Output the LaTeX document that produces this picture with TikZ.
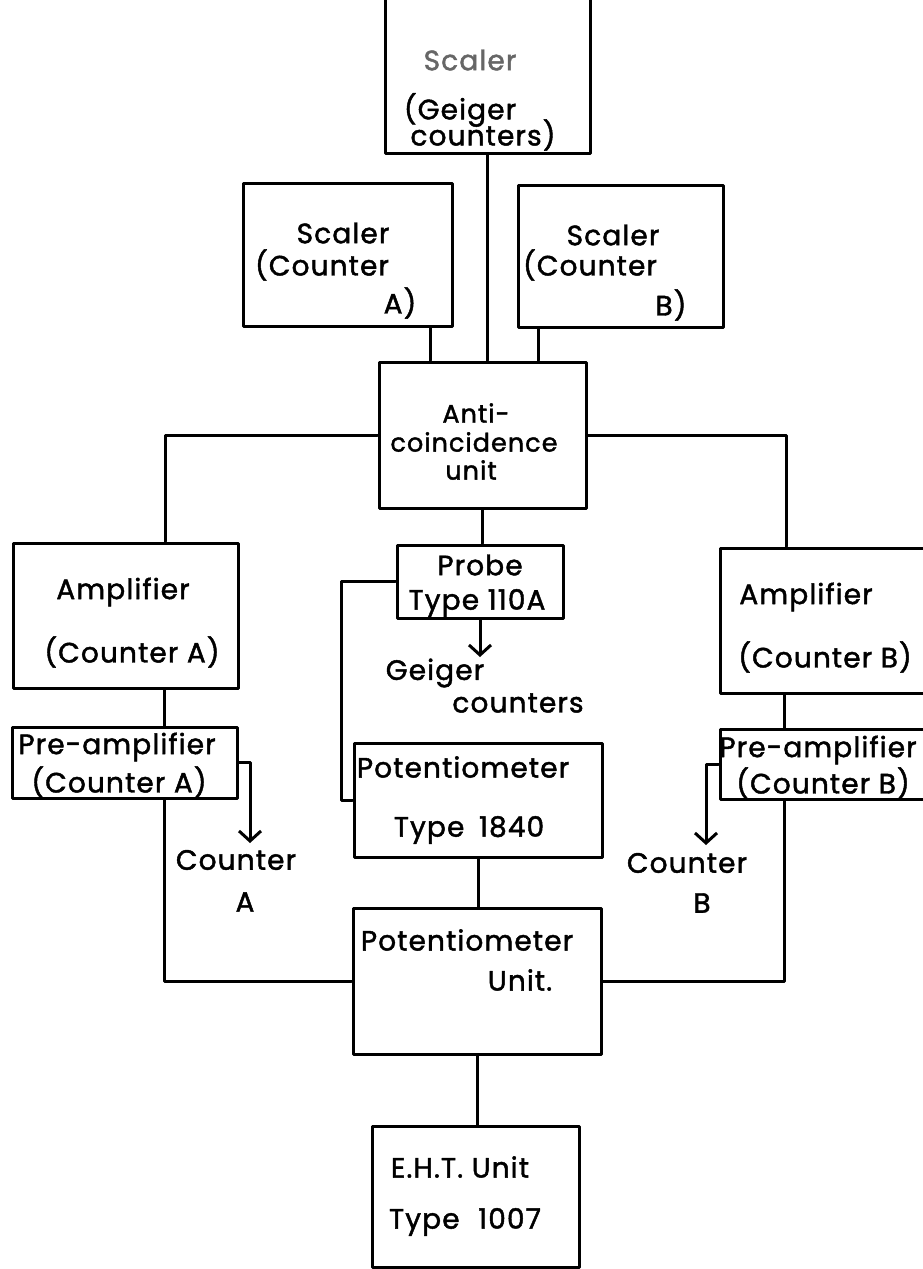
\documentclass[tikz,border=0pt]{standalone}
\usepackage{fontspec}
\setmainfont{Poppins}[LetterSpace=4.0, FakeBold=1.6]
\usetikzlibrary{arrows.meta}
\tikzset{
  blk/.style={draw, line width=3pt, inner sep=0pt},
  txt/.style={inner sep=0pt, font=\fontsize{28}{32}\selectfont},
  small/.style={font=\fontsize{25.5}{28}\selectfont}
}
\begin{document}
\begin{tikzpicture}[x=1pt, y=-1pt, line width=3pt, line join=round, line cap=round, >={Straight Barb[length=10pt,width=22pt]}]
			\fill[white] (0,0) rectangle (923,1269);
			\useasboundingbox (0,0) rectangle (923,1269);
			\clip (0,0) rectangle (923,1269);
			% boxes
			\node[blk, minimum width=205pt, minimum height=183pt] (scG) at (487.5,61.5) {};
			\node[blk, minimum width=209pt, minimum height=143pt] (scA) at (347.5,254.5) {};
			\node[blk, minimum width=205pt, minimum height=142pt] (scB) at (620.5,256) {};
			\node[blk, minimum width=207pt, minimum height=146pt] (anti) at (482.5,435) {};
			\node[blk, minimum width=225pt, minimum height=145pt] (ampA) at (125.5,615.5) {};
			\node[blk, minimum width=225pt, minimum height=71pt] (preA) at (124.5,762.5) {};
			\node[blk, minimum width=166pt, minimum height=73pt] (probe) at (480,581.5) {};
			\node[blk, minimum width=248pt, minimum height=114pt] (pot) at (478,800) {};
			\node[blk, minimum width=220pt, minimum height=145pt] (ampB) at (830,620.5) {};
			\node[blk, minimum width=220pt, minimum height=70pt] (preB) at (830,764) {};
			\node[blk, minimum width=248pt, minimum height=146pt] (potU) at (477,981) {};
			\node[blk, minimum width=207pt, minimum height=141pt] (eht) at (475.5,1196.5) {};
			% texts
			\node[txt, text=black!60] (tG1) at (470,60) {Scaler};
			\node[txt] (tG2) at (460,110) {(Geiger};
			\node[txt] (tG3) at (483,135) {counters)};
			\node[txt] (tA1) at (343,233) {Scaler};
			\node[txt] (tA2) at (322,265) {(Counter};
			\node[txt] (tA3) at (400,303) {A)};
			\node[txt] (tB1) at (613,235) {Scaler};
			\node[txt] (tB2) at (590,265) {(Counter};
			\node[txt] (tB3) at (671,305) {B)};
			\node[txt, small] (tN1) at (476,413) {Anti-};
			\node[txt, small] (tN2) at (474,442) {coincidence};
			\node[txt, small] (tN3) at (471,470) {unit};
			\node[txt] (tAA1) at (123,592) {Amplifier};
			\node[txt] (tAA2) at (132,652) {(Counter A)};
			\node[txt] (tPA1) at (117,747) {Pre-amplifier};
			\node[txt] (tPA2) at (119,782) {(Counter A)};
			\node[txt] (tPr1) at (480,565) {Probe};
			\node[txt] (tPr2) at (477,603) {Type 110A};
			\node[txt] (tGc1) at (435,673) {Geiger};
			\node[txt] (tGc2) at (518,703) {counters};
			\node[txt] (tP1) at (463,767) {Potentiometer};
			\node[txt] (tP2) at (469,830) {Type\hspace{6pt} 1840};
			\node[txt] (tCA1) at (236,860) {Counter};
			\node[txt] (tCA2) at (245,902) {A};
			\node[txt] (tAB1) at (806,597) {Amplifier};
			\node[txt] (tAB2) at (825,657) {(Counter B)};
			\node[txt] (tPB1) at (818,750) {Pre-amplifier};
			\node[txt] (tPB2) at (823,783) {(Counter B)};
			\node[txt] (tCB1) at (687,863) {Counter};
			\node[txt] (tCB2) at (702,903) {B};
			\node[txt] (tU1) at (467,940) {Potentiometer};
			\node[txt] (tU2) at (520,980) {Unit.};
			\node[txt] (tE1) at (460,1167) {E.H.T. Unit};
			\node[txt] (tE2) at (465,1222) {Type\hspace{10pt} 1007};
			% free ends of the arrows
			\coordinate (tipG) at (480,657);
			\coordinate (tipA) at (250,843);
			\coordinate (tipB) at (706,845);
			% connectors
			\draw ([xshift=-23pt]scA.south east) -- ([xshift=-23pt]scA.south east |- anti.north);
			\draw (scG.south) -- (scG.south |- anti.north);
			\draw ([xshift=22pt]scB.south west) -- ([xshift=22pt]scB.south west |- anti.north);
			\draw (anti.west) -| ([xshift=154pt]ampA.north west);
			\draw (anti.east) -| ([xshift=68pt]ampB.north west);
			\draw (anti.south) -- (anti.south |- probe.north);
			\draw ([xshift=153pt]ampA.south west) -- ([xshift=153pt]ampA.south west |- preA.north);
			\draw ([xshift=66pt]ampB.south west) -- ([xshift=66pt]ampB.south west |- preB.north);
			\draw[->] (preA.east) -| (tipA);
			\draw[->] (preB.west) -| (tipB);
			\draw[->] (probe.south) -- (tipG);
			\draw (probe.west) -- ++(-54,0) |- (pot.west);
			\draw ([xshift=154pt]preA.south west) |- (potU.west);
			\draw ([xshift=66pt]preB.south west) |- (potU.east);
			\draw (pot.south) -- (pot.south |- potU.north);
			\draw (potU.south) -- (potU.south |- eht.north);
\end{tikzpicture}
\end{document}
